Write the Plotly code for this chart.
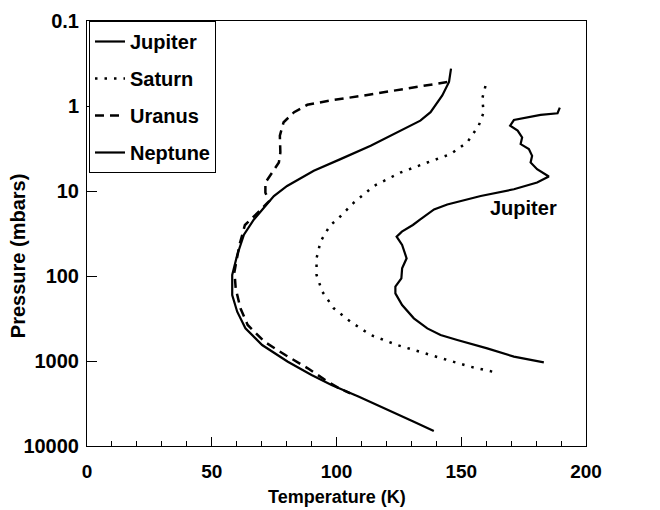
import math
import plotly.graph_objects as go

# ---- data (temperature in K, pressure in mbar) ----
jupiter_T = [189.5, 188.6, 181.8, 171.1, 169.6, 172.6, 174.4, 173.8, 177.1, 178.4, 177.8, 180.4,
             185.1, 180.4, 171.1, 157.8, 144.4, 139.1, 133.6, 130.6, 126.2, 124.1, 126.3, 128.1,
             126.3, 126.0, 123.6, 123.6, 126.3, 131.0, 136.4, 141.7, 148.4, 160.4, 171.1, 183.1]
jupiter_P = [1.047, 1.216, 1.274, 1.462, 1.702, 1.95, 2.339, 2.805, 3.214, 3.855, 4.624, 5.546,
             6.761, 7.962, 9.55, 11.46, 14.39, 16.48, 21.63, 25.12, 30.06, 34.43, 43.15, 61.94,
             81.28, 106.4, 133.4, 160.0, 219.3, 314.8, 413.0, 494.3, 566.2, 709.6, 889.2, 1038.0]

saturn_T = [159.7, 158.4, 159.0, 157.0, 152.4, 145.7, 136.4, 125.6, 115.0, 106.9, 100.3, 97.6, 95.6,
            93.6, 92.0, 92.0, 94.3, 98.9, 105.6, 113.7, 124.3, 135.0, 144.4, 153.7, 162.4]
saturn_P = [0.582, 0.822, 1.183, 1.702, 2.679, 3.681, 4.624, 6.067, 8.73, 13.74, 21.63, 25.12, 31.12,
            39.45, 61.94, 97.27, 152.8, 239.9, 344.4, 494.3, 648.6, 812.8, 972.7, 1167.0, 1334.0]

uranus_T = [144.4, 136.4, 124.3, 111.0, 97.6, 88.3, 83.0, 78.8, 77.3, 77.5, 76.9, 74.2, 71.5, 71.5,
            73.0, 69.1, 63.3, 61.1, 59.1, 59.6, 61.5, 64.4, 71.1, 79.5, 88.5, 95.5, 101.0, 105.5]
uranus_P = [0.522, 0.5715, 0.656, 0.752, 0.861, 0.968, 1.183, 1.552, 2.234, 3.516, 4.624, 6.067,
            7.96, 10.47, 13.12, 17.26, 25.12, 43.15, 89.13, 139.6, 239.9, 376.7, 592.9, 851.1,
            1219.0, 1675.0, 2089.0, 2399.0]

neptune_T = [145.9, 145.1, 142.4, 137.7, 133.6, 124.3, 113.7, 101.6, 90.9, 80.2, 74.9, 70.9, 66.9,
             62.9, 60.2, 58.2, 58.2, 60.2, 63.5, 70.2, 80.5, 90.0, 98.0, 109.0, 121.0, 131.0, 139.0]
neptune_P = [0.363, 0.522, 0.751, 1.183, 1.486, 2.042, 2.931, 4.217, 5.794, 8.73, 11.46, 15.74, 21.63,
             32.6, 56.62, 97.27, 167.5, 263.0, 413.0, 648.6, 1019.0, 1462.0, 1914.0, 2630.0, 3767.0,
             5176.0, 6668.0]

x_ticks = [0, 50, 100, 150, 200]
y_ticks = [0.1, 1, 10, 100, 1000, 10000]
y_tick_text = ["0.1", "1", "10", "100", "1000", "10000"]

label_T, label_P = 175, 15.8

FONT = "Liberation Sans, Arial, Helvetica, sans-serif"

fig = go.Figure()
series = [
    ("Jupiter", jupiter_T, jupiter_P, dict(color="black", width=2.2)),
    ("Saturn", saturn_T, saturn_P, dict(color="black", width=2.5, dash="2.5px,7px")),
    ("Uranus", uranus_T, uranus_P, dict(color="black", width=2.5, dash="9px,6px")),
    ("Neptune", neptune_T, neptune_P, dict(color="black", width=2.2)),
]
for name, t, p, ln in series:
    fig.add_trace(go.Scatter(x=t, y=p, mode="lines", name=name, line=ln,
                             legendgroup=name))

fig.add_annotation(x=label_T, y=math.log10(label_P), xref="x", yref="y",
                   text="Jupiter", showarrow=False,
                   font=dict(family=FONT, size=20, color="black", weight="bold"))

# axis titles
fig.add_annotation(x=0.5, y=-0.12, xref="paper", yref="paper", text="Temperature (K)",
                   showarrow=False, xanchor="center", yanchor="middle",
                   font=dict(family=FONT, size=18, color="black", weight="bold"))
fig.add_annotation(x=-0.138, y=0.447, xref="paper", yref="paper", text="Pressure (mbars)",
                   showarrow=False, textangle=-90, xanchor="center", yanchor="middle",
                   font=dict(family=FONT, size=20, color="black", weight="bold"))

# the page body has an 8px margin, so the figure is sized to fill the window from (8, 8)
fig.update_layout(
    width=652, height=502,
    margin=dict(l=79, r=74, t=13, b=64, autoexpand=False),
    paper_bgcolor="white", plot_bgcolor="white",
    font=dict(family=FONT, size=19, color="black", weight="bold"),
    showlegend=True,
    legend=dict(x=0.004, y=1, xanchor="left", yanchor="top",
                bordercolor="black", borderwidth=1, bgcolor="white",
                font=dict(family=FONT, size=20, color="black", weight="bold"),
                tracegroupgap=8, traceorder="grouped"),
    xaxis=dict(range=[0, 200], tickvals=x_ticks, ticks="inside", ticklen=9, tickwidth=1,
               tickcolor="black", showline=True, linecolor="black", linewidth=1, mirror=True,
               showgrid=False, zeroline=False, ticklabelstandoff=8, automargin=False,
               minor=dict(dtick=10, tick0=0, ticks="inside", ticklen=5, tickcolor="black",
                          showgrid=False),
               tickfont=dict(family=FONT, size=19, color="black", weight="bold")),
    yaxis=dict(type="log", range=[4, -1], tickvals=y_ticks, ticktext=y_tick_text,
               ticks="inside", ticklen=10, tickwidth=1, tickcolor="black",
               showline=True, linecolor="black", linewidth=1, mirror=True,
               showgrid=False, zeroline=False, ticklabelstandoff=3, automargin=False,
               tickfont=dict(family=FONT, size=20, color="black", weight="bold")),
)

fig.write_html("out.html")
